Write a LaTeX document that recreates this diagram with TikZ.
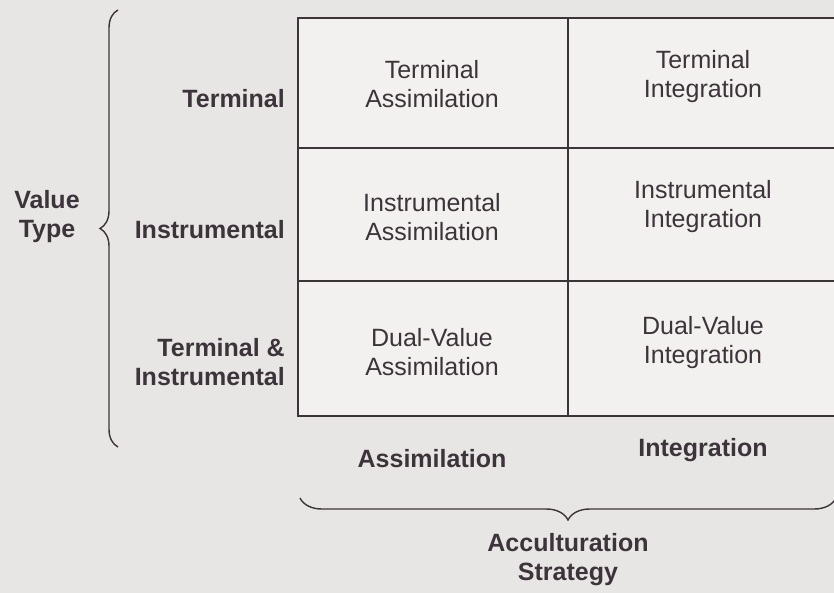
\documentclass[tikz,border=0pt]{standalone}
\usepackage{fontspec}
\setmainfont{Liberation Sans}
\usetikzlibrary{decorations.pathreplacing}
\definecolor{bg}{RGB}{232,230,229}
\definecolor{cellbg}{RGB}{242,241,239}
\definecolor{ink}{RGB}{60,52,58}
\begin{document}
\begin{tikzpicture}[x=1pt,y=-1pt,
  every node/.style={text=ink, align=center, inner sep=0pt,
    font=\fontsize{25}{29}\selectfont},
  lbl/.style={font=\fontsize{25}{29}\selectfont\bfseries},
  rlbl/.style={lbl, align=right, anchor=east},
  gridline/.style={draw=ink, line width=1.4pt},
  bracestyle/.style={draw=ink, line width=1.4pt, decorate,
    decoration={brace, amplitude=#1}}]
\fill[bg] (0,0) rectangle (834,593);
\useasboundingbox (0,0) rectangle (834,593);
% grid
\fill[cellbg] (298,18) rectangle (840,416);
\draw[gridline] (840,18) -- (298,18) -- (298,416) -- (840,416);
\draw[gridline] (298,148) -- (840,148);
\draw[gridline] (298,281) -- (840,281);
\draw[gridline] (568,18) -- (568,416);
% cell texts
\node (ta) at (432,84) {Terminal\\Assimilation};
\node (ti) at (703,77) {Terminal\\Integration};
\node (ia) at (432,217) {Instrumental\\Assimilation};
\node (ii) at (703,207) {Instrumental\\Integration};
\node (da) at (432,352) {Dual-Value\\Assimilation};
\node (di) at (703,343) {Dual-Value\\Integration};
% row labels
\node[rlbl] (rt) at (285,99) {Terminal};
\node[rlbl] (ri) at (285,230) {Instrumental};
\node[rlbl] (rd) at (285,362) {Terminal \&\\Instrumental};
\node[lbl] (vt) at (47,217) {Value\\Type};
% column labels
\node[lbl] (ca) at (432,459) {Assimilation};
\node[lbl] (ci) at (703,450) {Integration};
\node[lbl] (as) at (568,560) {Acculturation\\Strategy};
% braces
\coordinate (lbB) at (118,447);
\coordinate (lbT) at (118,10);
\draw[bracestyle=18] (lbB) -- (lbT);
\coordinate (bbL) at (300,498);
\coordinate (bbR) at (836,498);
\draw[bracestyle=22] (bbR) -- (bbL);
\end{tikzpicture}
\end{document}
